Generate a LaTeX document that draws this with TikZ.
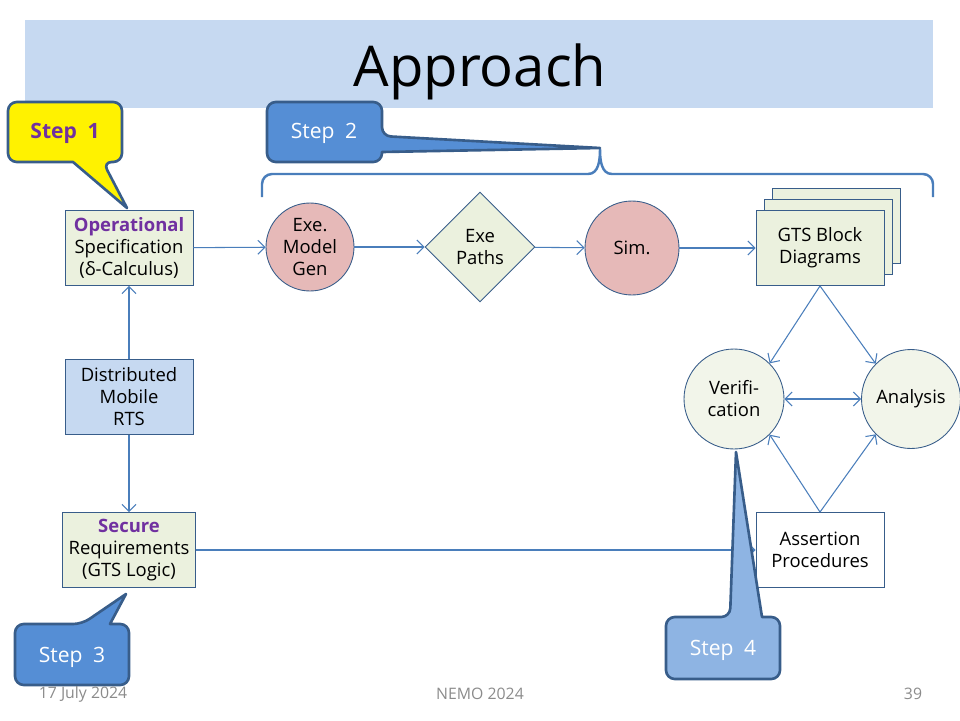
\documentclass[tikz,border=0pt]{standalone}
\usepackage{fontspec}
\setmainfont{Open Sans}
\usetikzlibrary{shapes.geometric,arrows.meta}
\definecolor{band}{HTML}{C6D9F1}
\definecolor{boxline}{HTML}{385D8A}
\definecolor{conn}{HTML}{4A7EBB}
\definecolor{paleg}{HTML}{EBF1DE}
\definecolor{palev}{HTML}{F2F5EA}
\definecolor{pink}{HTML}{E6B9B8}
\definecolor{purp}{HTML}{7030A0}
\definecolor{stepblue}{HTML}{558ED5}
\definecolor{steplight}{HTML}{8EB4E3}
\definecolor{foot}{HTML}{8B8B8B}
\newcommand{\bodyfont}{\fontsize{10.5}{12.5}\selectfont}

\begin{document}
\begin{tikzpicture}[x=0.02cm,y=0.02cm,>={Straight Barb[length=4pt,width=8pt]},
    box/.style={draw=boxline,line width=0.5pt,minimum width=2.56cm,minimum height=1.5cm,align=center,font=\bodyfont},
    ball/.style={circle,draw=boxline,line width=0.5pt,inner sep=0pt,align=center,font=\bodyfont},
    link/.style={draw=conn,line width=0.6pt,->},
    callout/.style={draw=boxline,line width=1.5pt,rounded corners=5pt,line join=round},
    steptxt/.style={font=\fontsize{12}{14}\selectfont},
    foottxt/.style={font=\fontsize{9}{11}\selectfont,text=foot}]
            \useasboundingbox (0,0) rectangle (960,-720);
            \fill [band] (25,-20) rectangle (933,-108);
            \node (title) at (480,-72) {\fontsize{32}{38}\selectfont Approach};
            \node [box,fill=paleg] (oper) at (129,-248) {\textcolor{purp}{\textbf{Operational}}\\Specification\\(δ-Calculus)};
            \node [box,fill=band] (dist) at (129,-397) {Distributed\\Mobile\\RTS};
            \node [box,fill=paleg] (secure) at (129,-550) {\textcolor{purp}{\textbf{Secure}}\\Requirements\\(GTS Logic)};
            \node [ball,fill=pink,minimum size=1.76cm] (exe) at (310,-247) {Exe.\\Model\\Gen};
            \node [diamond,draw=boxline,line width=0.5pt,fill=paleg,minimum size=2.2cm,inner sep=0pt,align=center,font=\bodyfont] (paths) at (480,-247) {Exe\\Paths};
            \node [ball,fill=pink,minimum size=1.88cm] (sim) at (632,-248) {Sim.};
            \node [box,fill=paleg] (back) at (836,-226) {};
            \node [box,fill=paleg] (mid) at (828,-237) {};
            \node [box,fill=paleg] (gts) at (820,-248) {GTS Block\\Diagrams};
            \node [ball,fill=palev,minimum size=2cm] (verif) at (734,-399) {Verifi-\\cation};
            \node [ball,fill=palev,minimum size=1.98cm] (anal) at (911,-399) {Analysis};
            \node [box,fill=white] (assert) at (820,-550) {Assertion\\Procedures};
            \draw [link] (oper) -- (exe);
            \draw [link] (exe) -- (paths);
            \draw [link] (paths) -- (sim);
            \draw [link] (sim) -- (gts);
            \draw [link] (dist) -- (oper);
            \draw [link] (dist) -- (secure);
            \draw [link] (secure) -- (assert);
            \draw [link] (gts.south) -- (verif.45);
            \draw [link] (gts.south) -- (anal.135);
            \draw [link,<->] (verif) -- (anal);
            \draw [link] (assert.north) -- (verif.-45);
            \draw [link] (assert.north) -- (anal.-135);
            \draw [conn,line width=1.4pt] (262,-197) -- (262,-184) to[out=90,in=180] (272,-174) -- (588,-174) to[out=0,in=-90] (600,-149) to[out=-90,in=180] (612,-174) -- (923,-174) to[out=0,in=90] (933,-184) -- (933,-197);
            \filldraw [callout,fill=yellow] (8,-132) -- (8,-102) -- (122,-102) -- (122,-162) -- (103,-162) [sharp corners] -- (127,-208) -- (73,-162) [rounded corners=5pt] -- (8,-162) -- cycle;
            \node [steptxt,text=purp] (step1) at (65,-133) {\textbf{Step\enspace1}};
            \filldraw [callout,fill=stepblue] (324,-102) -- (382,-102) -- (382,-136) [sharp corners] -- (600,-148) -- (382,-152) [rounded corners=5pt] -- (382,-162) -- (267,-162) -- (267,-102) -- cycle;
            \node [steptxt,text=white] (step2) at (324,-133) {Step\enspace2};
            \filldraw [callout,fill=stepblue] (15,-655) -- (15,-624) -- (82,-624) [sharp corners] -- (126,-594) -- (110,-624) [rounded corners=5pt] -- (129,-624) -- (129,-685) -- (15,-685) -- cycle;
            \node [steptxt,text=white] (step3) at (72,-657) {Step\enspace3};
            \filldraw [callout,fill=steplight] (666,-650) -- (666,-617) -- (730,-617) [sharp corners] -- (736,-452) -- (762,-617) [rounded corners=5pt] -- (780,-617) -- (780,-679) -- (666,-679) -- cycle;
            \node [steptxt,text=white] (step4) at (723,-650) {Step\enspace4};
            \node [foottxt] (date) at (83,-694) {17 July 2024};
            \node [foottxt] (conf) at (480,-694) {NEMO 2024};
            \node [foottxt] (page) at (913,-694) {39};
\end{tikzpicture}
\end{document}
